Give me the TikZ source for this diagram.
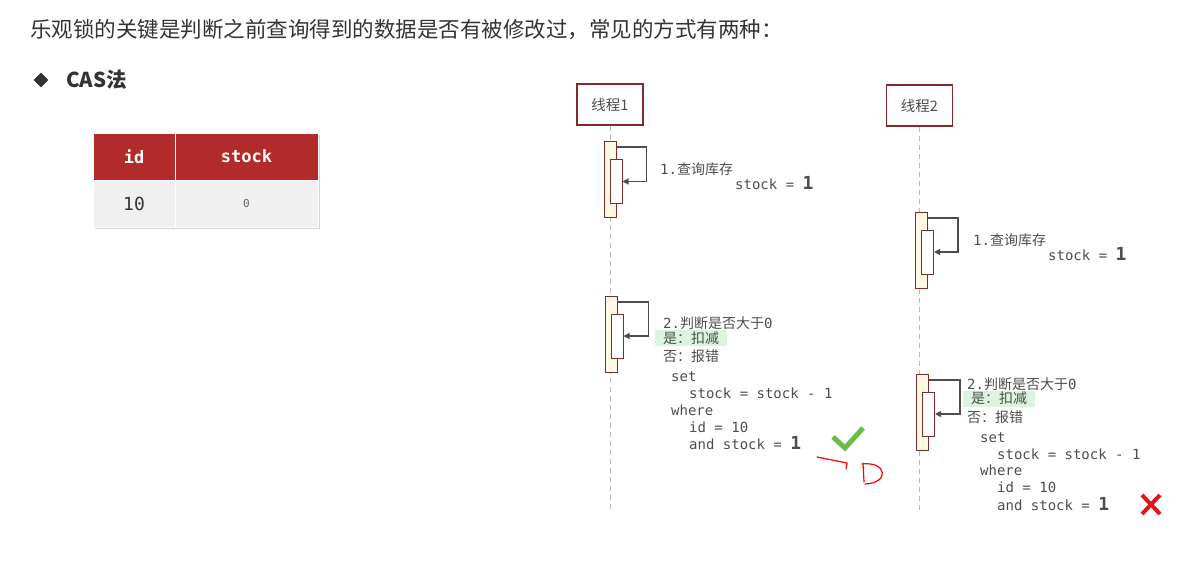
\documentclass[tikz,border=0pt]{standalone}
\usepackage{fontspec}
\setmonofont{DejaVu Sans Mono}
\newfontfamily\cjk{Noto Sans CJK SC}
\usetikzlibrary{arrows.meta,positioning,shapes.geometric,shadows}

\definecolor{hdred}{HTML}{B22A2A}
\definecolor{linered}{HTML}{7E2B2B}
\definecolor{actfill}{HTML}{FFF8E2}
\definecolor{seqgray}{HTML}{4D4D4D}
\definecolor{hlgreen}{HTML}{DDF3DD}
\definecolor{okgreen}{HTML}{6CBD45}
\definecolor{badred}{HTML}{E3141C}
\definecolor{titlegray}{HTML}{333333}

\newcommand{\bigone}{{\fontsize{18}{18}\selectfont\bfseries 1}}
\newcommand{\tto}[1]{{\ttfamily #1}}

\begin{document}
\begin{tikzpicture}[
    x=1pt, y=-1pt,
    thread/.style={draw=linered, line width=1.3pt, fill=white, minimum width=66pt, minimum height=41pt, inner sep=0pt, font=\cjk\fontsize{14.5}{16}\selectfont, text=seqgray},
    lifeline/.style={draw=gray!55, line width=1pt, dash pattern=on 5pt off 4pt},
    outer/.style={draw=linered, line width=1pt, fill=actfill, minimum width=12pt, minimum height=76pt, inner sep=0pt},
    inner/.style={draw=linered, line width=1pt, fill=white, minimum width=12pt, minimum height=44pt, inner sep=0pt},
    self/.style={draw=seqgray, line width=1.1pt, -{Triangle[length=6pt,width=6pt]}},
    msg/.style={anchor=base west, inner sep=0pt, text=seqgray, font=\cjk\fontsize{14}{16}\selectfont},
    code/.style={anchor=base west, inner sep=0pt, text=seqgray, font=\ttfamily\fontsize{14}{16}\selectfont},
    yes/.style={anchor=west, fill=hlgreen, inner xsep=8pt, inner ysep=0pt, minimum height=16pt, text=seqgray, font=\cjk\fontsize{14}{16}\selectfont},
    head/.style={fill=hdred, draw=white, line width=0.6pt, minimum height=47pt, inner sep=0pt, text=white, font=\ttfamily\bfseries\fontsize{17}{17}\selectfont},
    cell/.style={fill=black!6, draw=white, line width=0.6pt, minimum height=47pt, inner sep=0pt, text=titlegray, font=\ttfamily}
]
\useasboundingbox (0,0) rectangle (1186,562);

% title and bullet
\node[anchor=west, inner sep=0pt, text=titlegray, font=\cjk\fontsize{21.5}{22}\selectfont] (title) at (30,30) {乐观锁的关键是判断之前查询得到的数据是否有被修改过，常见的方式有两种：};
\node[diamond, fill=titlegray, minimum size=15pt, inner sep=0pt] (bullet) at (41,80) {};
\node[anchor=west, inner sep=0pt, text=titlegray, font=\cjk\bfseries\fontsize{20.5}{21}\selectfont] (cas) at (66,80) {CAS法};

% table
\node[fill=white, minimum width=225pt, minimum height=94pt, inner sep=0pt,
      drop shadow={opacity=0.35, shadow xshift=2pt, shadow yshift=-2pt}] (tab) at (205.5,180) {};
\node[head, minimum width=82pt] (idh) at (134,156.5) {id};
\node[head, minimum width=143pt] (stockh) at (246.5,156.5) {stock};
\node[cell, minimum width=82pt, font=\ttfamily\fontsize{18}{18}\selectfont] (idv) at (134,203.5) {10};
\node[cell, minimum width=143pt, text=black!60, font=\ttfamily\fontsize{11}{11}\selectfont] (stockv) at (246.5,203.5) {0};

% threads and lifelines
\node[thread] (th1) at (610,104.5) {线程1};
\node[thread] (th2) at (919.5,105.5) {线程2};
\coordinate (end1) at (610,510);
\coordinate (end2) at (919.5,512);
\draw[lifeline] (th1.south) -- (end1);
\draw[lifeline] (th2.south) -- (end2);

% thread 1, query
\node[outer] (act1) at (610,179.5) {};
\node[inner] (sub1) at (616,181.5) {};
\draw[self] ([yshift=-6pt]act1.north east) -| ([xshift=24pt]sub1.east) -- (sub1.east);
\node[msg] (q1) at (660,174) {\tto{1.}查询库存};
\node[code] (r1) at (735,189) {stock = \bigone};

% thread 2, query
\node[outer] (act2) at (921.5,250.5) {};
\node[inner] (sub2) at (927.5,252) {};
\draw[self] ([yshift=-6pt]act2.north east) -| ([xshift=24pt]sub2.east) -- (sub2.east);
\node[msg] (q2) at (973,245) {\tto{1.}查询库存};
\node[code] (r2) at (1048,260) {stock = \bigone};

% thread 1, update
\node[outer] (act3) at (611,334.5) {};
\node[inner] (sub3) at (617,336) {};
\draw[self] ([yshift=-6pt]act3.north east) -| ([xshift=25pt]sub3.east) -- (sub3.east);
\node[msg] (c1) at (663,328) {\tto{2.}判断是否大于\tto{0}};
\node[yes] (y1) at (655,338) {是：扣减};
\node[msg] (n1) at (663,361) {否：报错};
\node[code] (s1) at (671,381) {set};
\node[code] (s2) at (689,398) {stock = stock - 1};
\node[code] (s3) at (671,415) {where};
\node[code] (s4) at (689,432) {id = 10};
\node[code] (s5) at (689,449) {and stock = \bigone};
\draw[okgreen, line width=5pt] (833,437) -- (845,448) -- (863,428);
\draw[red, line width=1.2pt, line cap=round, line join=round] (817,457) -- (847,463) -- (846,469);
\draw[red, line width=1.2pt, line cap=round] (863,463) -- (864,482);
\draw[red, line width=1.2pt, line cap=round] (862,464) .. controls (887,461) and (890,483) .. (865,484);

% thread 2, update
\node[outer] (act4) at (922.5,412.5) {};
\node[inner] (sub4) at (928.5,414) {};
\draw[self] ([yshift=-6pt]act4.north east) -| ([xshift=25pt]sub4.east) -- (sub4.east);
\node[msg] (c2) at (967,389) {\tto{2.}判断是否大于\tto{0}};
\node[yes] (y2) at (963,398.5) {是：扣减};
\node[msg] (n2) at (967,422) {否：报错};
\node[code] (t1) at (980,442) {set};
\node[code] (t2) at (997,459) {stock = stock - 1};
\node[code] (t3) at (980,475) {where};
\node[code] (t4) at (997,492) {id = 10};
\node[code] (t5) at (997,510) {and stock = \bigone};
\draw[badred, line width=4pt] (1142,495) -- (1160,514);
\draw[badred, line width=4pt] (1160,495) -- (1142,514);
\end{tikzpicture}
\end{document}
